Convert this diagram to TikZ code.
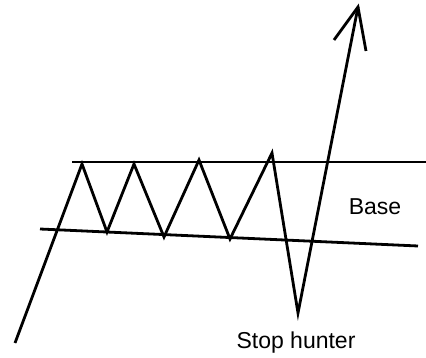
\documentclass[tikz,border=0pt]{standalone}
\usepackage{fontspec}
\setmainfont{Liberation Sans}
\usetikzlibrary{positioning,calc}

\begin{document}
\begin{tikzpicture}[x=1pt,y=-1pt,line width=2.8pt]
  \useasboundingbox (0,0) rectangle (426,358);
  % the base
  \coordinate (topL) at (72,162); \coordinate (topR) at (426,162);
  \coordinate (botL) at (40,229); \coordinate (botR) at (418,246);
  \draw (topL)--(topR);
  \draw (botL)--(botR);
  % price
  \coordinate (start) at (15,343);
  \coordinate (p1) at (82,164); \coordinate (t1) at (107,232);
  \coordinate (p2) at (134,164); \coordinate (t2) at (164,237);
  \coordinate (p3) at (199,160); \coordinate (t3) at (230,239);
  \coordinate (p4) at (272,153); \coordinate (low) at (298,313);
  \coordinate (tip) at (358,7);
  \draw (start)--(p1)--(t1)--(p2)--(t2)--(p3)--(t3)--(p4)--(low)--(tip);
  \draw (334,40)--(tip)--(366,51);
  \node[font=\fontsize{23}{26}\selectfont] (base) at (375,207) {Base};
  \node[font=\fontsize{23}{26}\selectfont] (hunter) at (296,343) {Stop hunter};
\end{tikzpicture}
\end{document}
